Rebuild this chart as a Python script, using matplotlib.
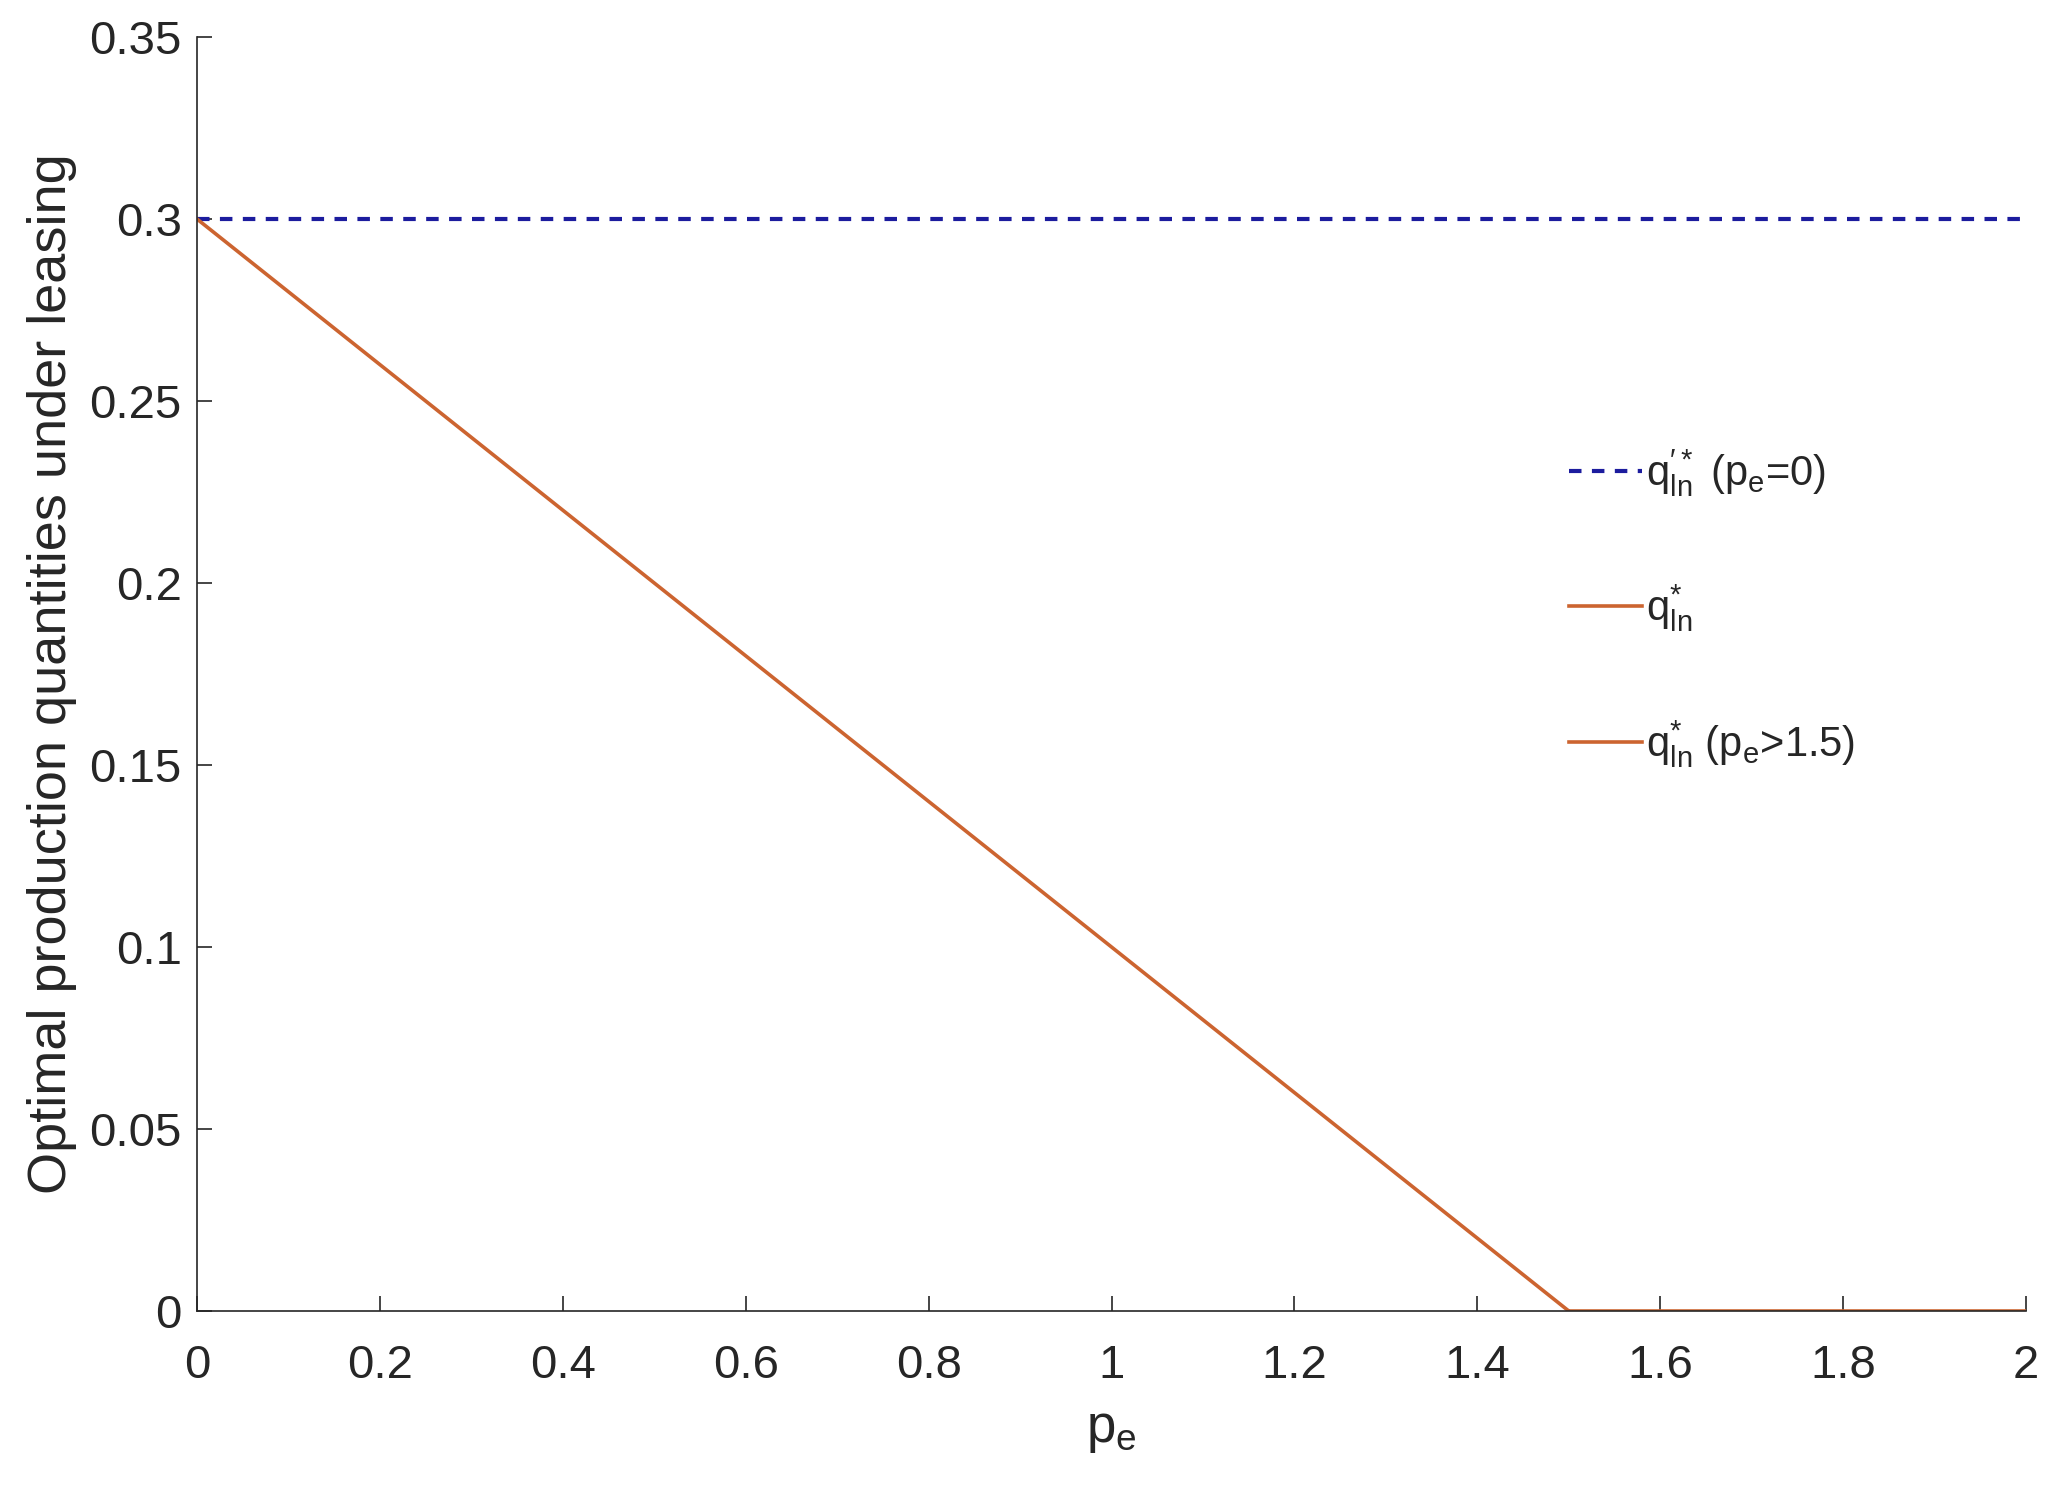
import matplotlib
matplotlib.use('Agg')
import matplotlib.pyplot as plt
from matplotlib.ticker import FuncFormatter

plt.rcParams['font.family'] = ['Liberation Sans', 'DejaVu Sans']
plt.rcParams['mathtext.default'] = 'regular'

# data
pe_const = [0, 2]
q_const = [0.3, 0.3]
pe_lin = [0, 1.5]
q_lin = [0.3, 0.0]
pe_zero = [1.5, 2]
q_zero = [0.0, 0.0]

labels = [r"$q_{ln}^{\prime *}$ ($p_e$=0)",
          r"$q_{ln}^{*}$",
          r"$q_{ln}^{*}$ ($p_e$>1.5)"]
xticks = [0, 0.2, 0.4, 0.6, 0.8, 1, 1.2, 1.4, 1.6, 1.8, 2]
yticks = [0, 0.05, 0.1, 0.15, 0.2, 0.25, 0.3, 0.35]

blue = '#1c1c9e'
orange = '#cc6430'
gray = '#262626'

fig = plt.figure(figsize=(20.58, 14.95), dpi=100)
ax = fig.add_axes([197/2058, 1 - 1311/1495, (2026-197)/2058, (1311-37)/1495])

ax.plot(pe_const, q_const, '--', color=blue, lw=3, dashes=(3, 2.5), label=labels[0])
ax.plot(pe_lin, q_lin, '-', color=orange, lw=2.6, label=labels[1])
ax.plot(pe_zero, q_zero, '-', color=orange, lw=2.6, label=labels[2])

ax.set_xlim(0, 2)
ax.set_ylim(0, 0.35)
ax.set_xticks(xticks)
ax.set_yticks(yticks)
fmt = FuncFormatter(lambda v, p: '%g' % v)
ax.xaxis.set_major_formatter(fmt)
ax.yaxis.set_major_formatter(fmt)

for s in ['top', 'right']:
    ax.spines[s].set_visible(False)
for s in ['left', 'bottom']:
    ax.spines[s].set_color(gray)
    ax.spines[s].set_linewidth(1.2)
ax.tick_params(direction='in', length=11, width=1.2, color=gray,
               labelsize=34, labelcolor=gray)
ax.tick_params(axis='x', pad=24)
ax.tick_params(axis='y', pad=11)

ax.set_xlabel(r'$p_e$', fontsize=38, color=gray, labelpad=12)
ax.set_ylabel('Optimal production quantities under leasing', fontsize=39,
              color=gray, labelpad=9)

ax.legend(loc='upper left', bbox_to_anchor=(0.750, 0.678), frameon=False,
          fontsize=30, handlelength=1.75, handletextpad=0.1, labelspacing=2.0,
          borderpad=0, borderaxespad=0, labelcolor=gray)

fig.savefig('out.png', dpi=100, facecolor='white')
